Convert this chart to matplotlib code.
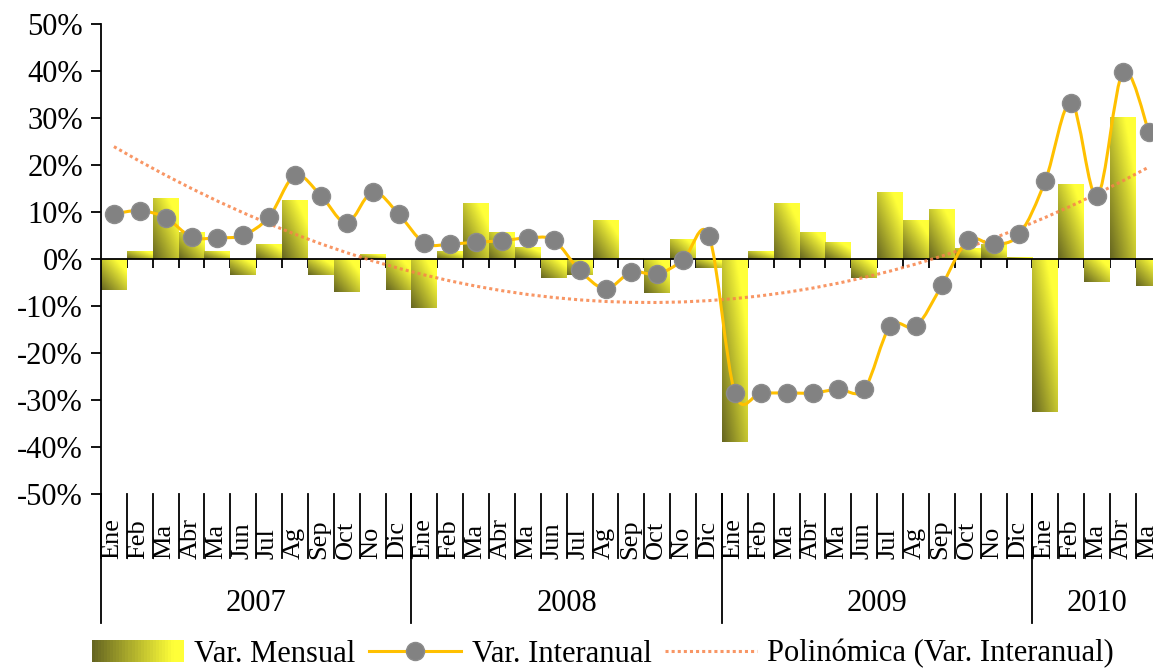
#Grafico: Var. Mensual e Interanual 2007-2010
import numpy as np
import matplotlib.pyplot as plt
from matplotlib.path import Path
from matplotlib.patches import PathPatch, Rectangle
from matplotlib.lines import Line2D
from matplotlib.legend_handler import HandlerBase
import matplotlib.transforms as mtransforms

plt.rcParams['font.family'] = ['Liberation Serif', 'DejaVu Serif']

#datos
meses = ["Ene", "Feb", "Ma", "Abr", "Ma", "Jun", "Jul", "Ag", "Sep", "Oct", "No", "Dic"]
anios = ["2007", "2008", "2009", "2010"]
meses_por_anio = [12, 12, 12, 5]

var_mensual = [-6.5, 1.8, 13.1, 5.7, 1.8, -3.4, 3.2, 12.6, -3.4, -7.0, 1.0, -6.6,
               -10.5, 1.8, 12.0, 5.8, 2.5, -4.1, -3.4, 8.4, 0.3, -7.2, 4.3, -2.0,
               -39.0, 1.8, 12.0, 5.8, 3.6, -4.1, 14.3, 8.4, 10.7, 2.4, 3.1, 0.4,
               -32.6, 16.0, -4.9, 30.2, -5.8]
var_interanual = [9.6, 10.3, 8.8, 4.7, 4.5, 5.1, 9.0, 17.8, 13.5, 7.7, 14.3, 9.6,
                  3.4, 3.2, 3.6, 3.9, 4.5, 4.0, -2.4, -6.3, -2.8, -3.2, -0.2, 4.9,
                  -28.5, -28.5, -28.5, -28.5, -27.7, -27.7, -14.3, -14.3, -5.6, 4.0, 3.1, 5.3,
                  16.7, 33.3, 13.4, 39.8, 27.1]

etiquetas = []
for n in meses_por_anio:
    etiquetas += meses[:n]

x = np.arange(len(var_mensual))
yv = np.array(var_interanual)

oscuro = np.array([0.40, 0.40, 0.13])
claro = np.array([1.0, 1.0, 0.22])
amarillo = '#FFC000'

fig = plt.figure(figsize=(11.53, 6.70), dpi=100)
ax = fig.add_axes([0.0876, 0.2627, 0.9124, 0.7013])

#barras con degradado
barras = ax.bar(x, var_mensual, width=1.0, facecolor='none', edgecolor='none', zorder=2)
u = np.linspace(0, 1, 32)
uu, vv = np.meshgrid(u, u)
t = np.clip((uu + vv) / 2 * 1.25, 0, 1)
img = oscuro[None, None, :] + t[:, :, None] * (claro - oscuro)[None, None, :]
for b in barras:
    x0 = b.get_x()
    y0 = b.get_y()
    h = b.get_height()
    im = ax.imshow(img, extent=[x0, x0 + b.get_width(), min(y0, y0 + h), max(y0, y0 + h)],
                   origin='lower', aspect='auto', interpolation='bilinear', zorder=2)
    im.set_clip_path(b)

#linea suavizada (tipo Excel)
pts = np.column_stack([x, yv])
verts = [tuple(pts[0])]
codes = [Path.MOVETO]
for i in range(len(pts) - 1):
    p0 = pts[i - 1] if i > 0 else pts[i]
    p1 = pts[i]
    p2 = pts[i + 1]
    p3 = pts[i + 2] if i + 2 < len(pts) else pts[i + 1]
    c1 = p1 + (p2 - p0) / 6
    c2 = p2 - (p3 - p1) / 6
    verts += [tuple(c1), tuple(c2), tuple(p2)]
    codes += [Path.CURVE4] * 3
ax.add_patch(PathPatch(Path(verts, codes), facecolor='none', edgecolor=amarillo, lw=2.2, zorder=4))
ax.plot(x, yv, 'o', ms=13, mfc='#828282', mec='#8c8c8c', mew=1, zorder=5)

#tendencia polinomica
coef = np.polyfit(x, yv, 2)
tendencia = np.polyval(coef, x)
ax.plot(x, tendencia, color='#F7844A', lw=2.2, linestyle=(0, (1, 1)), alpha=0.85, zorder=3)

#ejes
ax.set_xlim(-0.5, 40.16)
ax.set_ylim(-50, 50)
ax.set_yticks(np.arange(-50, 51, 10))
ax.set_yticklabels([f"{v}%" for v in range(-50, 51, 10)], fontsize=22)
ax.tick_params(axis='y', direction='out', length=7, width=1.3, pad=6)
for s in ['top', 'right']:
    ax.spines[s].set_visible(False)
ax.spines['left'].set_linewidth(1.3)
ax.spines['bottom'].set_position(('data', 0))
ax.spines['bottom'].set_linewidth(1.3)
ax.set_xticks(np.arange(0.5, 40.5, 1))
ax.set_xticklabels([])
ax.tick_params(axis='x', direction='out', length=6.5, width=1.3)

#etiquetas de meses y anios
tr = mtransforms.blended_transform_factory(ax.transData, ax.transAxes)
for i, lab in enumerate(etiquetas):
    ax.text(i - 0.05, -0.138, lab, rotation=90, ha='center', va='bottom', fontsize=19, transform=tr)
for i in range(len(etiquetas)):
    ax.plot([i - 0.5, i - 0.5], [0, -0.136], color='black', lw=1.3, transform=tr, clip_on=False)
inicio = 0
for anio, n in zip(anios, meses_por_anio):
    ax.plot([inicio - 0.5, inicio - 0.5], [0, -0.2745], color='black', lw=1.3, transform=tr, clip_on=False)
    ax.text(inicio + (n - 1) / 2, -0.232, anio, ha='center', va='center', fontsize=22, transform=tr)
    inicio += n

#leyenda
class HandlerDegradado(HandlerBase):
    def create_artists(self, legend, orig_handle, xdescent, ydescent, width, height, fontsize, trans):
        artistas = []
        n = 30
        for k in range(n):
            c = oscuro + min(1, (k / (n - 1)) * 1.1) * (claro - oscuro)
            artistas.append(Rectangle((-xdescent + k * width / n, -ydescent), width / n + 0.3, height,
                                      facecolor=c, edgecolor='none', transform=trans))
        return artistas

h_barra = Rectangle((0, 0), 1, 1)
h_linea = Line2D([], [], color=amarillo, lw=2.2, marker='o', ms=13, mfc='#828282', mec='#8c8c8c')
h_tend = Line2D([], [], color='#F7844A', lw=2.2, linestyle=(0, (1, 1)), alpha=0.85)
fig.legend([h_barra, h_linea, h_tend],
           ['Var. Mensual', 'Var. Interanual', 'Polinómica (Var. Interanual)'],
           handler_map={Rectangle: HandlerDegradado()},
           loc='center', bbox_to_anchor=(0.523, 0.024), ncol=3, frameon=False,
           fontsize=22, handlelength=3.0, handleheight=0.75, handletextpad=0.35, columnspacing=0.45)

fig.savefig('out.png', dpi=100)
